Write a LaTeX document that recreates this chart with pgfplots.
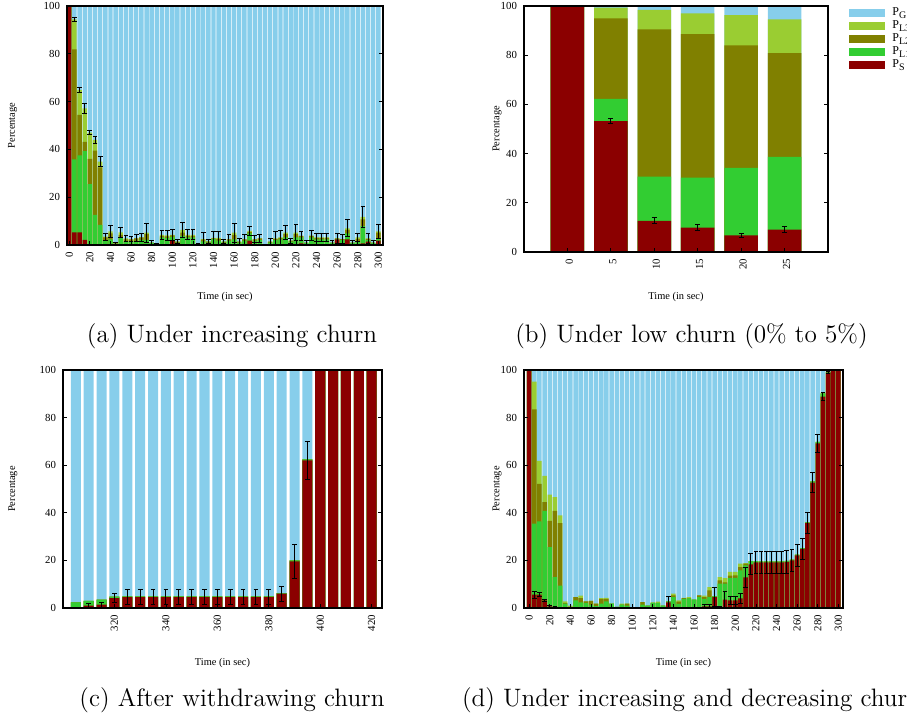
\documentclass[border=0pt]{standalone}
\usepackage{fontspec}
\usepackage{pgfplots}
\usepackage{pgfplotstable}
\pgfplotsset{compat=1.18}
\newfontfamily\plotfont{Liberation Serif}
\definecolor{pG}{HTML}{87CEEB}
\definecolor{pLthree}{HTML}{9ACD32}
\definecolor{pLtwo}{HTML}{808000}
\definecolor{pLone}{HTML}{32CD32}
\definecolor{pS}{HTML}{8B0000}

% columns: x, S (top of P_S), c1 (top of P_L1), c2 (top of P_L2), c3 (top of P_L3), G (top of P_G), e (error)
\pgfplotstableread{
x S c1 c2 c3 G e
0 100 100 100 100 100 0
5 5.3 35.8 81.9 94.4 100 0.8
10 5.3 37.5 54.4 64.9 100 1.2
15 2.1 39.3 43.1 57.2 100 2.0
20 0.3 25.5 36.0 47.0 100 0.8
25 0.3 12.6 39.5 44.0 100 1.5
30 0 8.4 32.5 34.9 100 2.0
35 0 1.8 3.2 3.5 100 1.5
40 0 2.4 4.9 5.7 100 2.6
45 0 0.5 0.7 0.7 100 0.3
50 0 3.2 4.2 5.3 100 2.0
55 0 1.4 2.4 2.8 100 1.3
60 0 1.4 2.4 2.4 100 1.0
65 0 1.4 2.8 2.8 100 1.4
70 0.3 2.1 3.2 3.2 100 1.7
75 0.3 2.1 4.5 5.2 100 4.0
80 0 0.8 1.0 1.0 100 0.8
85 0 0.3 0.4 0.4 100 0.3
90 0 3.2 3.8 4.2 100 2.0
95 0 3.0 3.6 4.0 100 2.2
100 1.8 3.4 4.0 4.2 100 2.2
105 0 1.0 1.4 1.4 100 0.8
110 0 3.8 5.2 6.3 100 3.2
115 0 3.2 3.8 4.2 100 2.1
120 0 3.2 3.8 4.2 100 2.1
125 0 0.3 0.3 0.3 100 0.2
130 0 1.5 2.2 2.5 100 2.6
135 0 1.0 1.4 1.5 100 1.0
140 0 2.5 2.8 3.0 100 2.6
145 0 1.8 2.6 3.0 100 2.7
150 0 1.0 1.4 1.4 100 0.8
155 0 1.8 2.4 2.4 100 2.0
160 0 2.4 4.2 5.2 100 4.0
165 0 1.0 1.4 1.4 100 1.2
170 0 1.8 2.4 2.4 100 2.0
175 1.8 4.9 5.4 5.9 100 2.0
180 0 1.8 2.4 2.4 100 1.4
185 0 2.0 2.8 2.8 100 1.6
190 0 0.2 0.2 0.2 100 0.1
195 0 1.0 1.4 1.4 100 1.2
200 0 2.0 2.6 2.8 100 3.0
205 0 2.4 3.0 3.2 100 3.0
210 0 3.2 4.5 5.2 100 2.8
215 0 1.4 1.8 1.8 100 1.0
220 0 3.2 4.6 5.2 100 3.2
225 0.7 3.2 3.8 3.8 100 2.0
230 0 0.8 1.0 1.0 100 0.8
235 0 3.2 3.8 3.9 100 2.2
240 0 2.4 3.0 3.2 100 1.8
245 0 2.4 3.0 3.2 100 1.8
250 0 2.4 3.0 3.2 100 1.8
255 0 0.8 1.0 1.0 100 1.0
260 2.4 2.6 2.8 2.8 100 2.0
265 0 2.0 2.5 2.5 100 1.8
270 2.4 4.9 6.3 7.0 100 3.6
275 0 0.8 1.0 1.0 100 0.9
280 0 1.4 2.6 3.2 100 1.8
285 0.7 7.9 10.7 11.8 100 4.5
290 1.4 2.0 2.6 2.8 100 2.1
295 0 0.8 1.0 1.0 100 1.0
300 1.8 2.8 5.2 5.7 100 3.0
}\tabA

\pgfplotstableread{
x S c1 c2 c3 G e
0 100 100 100 100 100 0
5 53.2 62.2 95.0 99.3 100 1.1
10 12.7 30.6 90.5 98.4 100 1.3
15 9.9 30.2 88.6 97.0 100 1.35
20 6.8 34.2 84.0 96.3 100 0.9
25 9.1 38.7 80.8 94.6 100 1.1
}\tabB

\pgfplotstableread{
x S c1 c2 c3 G e
305 0 2.4 2.4 2.4 100 0
310 1.0 3.0 3.0 3.0 100 0.9
315 1.4 3.5 3.5 3.5 100 1.0
320 4.2 4.8 4.8 4.8 100 2.0
325 4.6 4.9 4.9 4.9 100 3.3
330 4.6 4.9 4.9 4.9 100 3.3
335 4.6 4.9 4.9 4.9 100 3.3
340 4.6 4.9 4.9 4.9 100 3.3
345 4.6 4.9 4.9 4.9 100 3.3
350 4.6 4.9 4.9 4.9 100 3.3
355 4.6 4.9 4.9 4.9 100 3.3
360 4.6 4.9 4.9 4.9 100 3.3
365 4.6 4.9 4.9 4.9 100 3.3
370 4.6 4.9 4.9 4.9 100 3.3
375 4.6 4.9 4.9 4.9 100 3.3
380 4.6 4.9 4.9 4.9 100 3.3
385 6.0 6.2 6.2 6.2 100 3.1
390 19.6 20.0 20.0 20.0 100 7.1
395 62.0 62.4 62.4 62.4 100 8.0
400 100 100 100 100 100 0
405 100 100 100 100 100 0
410 100 100 100 100 100 0
415 100 100 100 100 100 0
420 100 100 100 100 100 0
}\tabC

\pgfplotstableread{
x S c1 c2 c3 G e
0 100 100 100 100 100 0
5 5.6 35.4 83.5 95.1 100 1.5
10 5.6 36.4 52.2 61.8 100 0.9
15 3.2 40.8 44.5 55.5 100 0.3
20 0.7 25.6 36.6 47.6 100 0.3
25 0.6 13.0 40.8 46.6 100 0
30 0.4 9.4 35.7 38.9 100 0
35 0 1.8 2.2 2.8 100 0
40 0 0.5 0.5 1.0 100 0
45 0.3 3.2 4.6 4.6 100 0
50 0 2.4 4.2 5.2 100 0
55 0 2.1 2.8 2.8 100 0
60 0 1.4 3.0 3.0 100 0
65 0 0.8 1.8 1.8 100 0
70 0 1.8 3.8 4.2 100 0
75 0 2.8 3.8 4.3 100 0
80 0 1.8 1.8 1.8 100 0
85 0.3 0.5 0.5 0.5 100 0
90 0 1.4 1.4 1.8 100 0
95 0 1.0 1.8 1.8 100 0
100 0 0.4 0.4 0.4 100 0
105 0 0.1 0.1 0.1 100 0
110 0 1.4 2.5 2.5 100 0
115 0 1.0 1.0 1.0 100 0
120 0 2.1 2.1 2.4 100 0
125 0 2.1 2.1 2.7 100 0
130 0 1.0 1.0 1.0 100 0
135 2.4 2.8 2.8 2.8 100 2.6
140 0 4.6 5.3 6.0 100 0
145 0 1.7 2.7 3.2 100 0
150 0 3.8 4.1 4.3 100 0
155 0 4.0 4.0 4.6 100 0
160 0 3.5 3.5 3.5 100 0
165 0 4.6 5.3 5.3 100 0
170 0.7 3.8 4.6 5.2 100 0.8
175 0.7 4.6 7.4 8.8 100 0.8
180 4.6 5.0 5.0 5.0 100 4.0
185 0.4 10.2 11.6 13.0 100 0.4
190 3.5 10.2 10.8 12.6 100 3.5
195 3.2 12.6 13.6 15.2 100 1.8
200 3.2 12.7 13.7 15.2 100 1.8
205 4.0 15.8 17.2 18.6 100 2.1
210 12.9 17.9 18.6 18.9 100 4.3
215 18.3 19.7 19.7 19.7 100 4.4
220 19.2 19.7 19.7 19.7 100 4.7
225 19.2 19.6 19.6 19.6 100 4.7
230 19.2 19.6 19.6 19.6 100 4.7
235 19.2 19.6 19.6 19.6 100 4.7
240 19.2 19.6 19.6 19.6 100 4.7
245 19.2 19.6 19.6 19.6 100 4.7
250 19.4 19.8 19.8 19.8 100 4.7
255 20.0 20.3 20.3 20.3 100 4.6
260 22.1 22.4 22.4 22.4 100 4.7
265 24.8 25.2 25.2 25.2 100 4.4
270 35.7 36.0 36.0 36.0 100 4.3
275 52.7 53.2 53.2 53.2 100 4.1
280 69.2 69.8 69.8 69.8 100 3.9
285 88.8 90.2 90.2 90.2 100 1.7
290 98.9 99.2 99.2 99.2 100 0.4
295 100 100 100 100 100 0
300 100 100 100 100 100 0
}\tabD

\pgfplotsset{
  panel/.style={
    scale only axis, ybar, ymin=0, ymax=100, ytick={0,20,40,60,80,100},
    axis on top, tick align=inside, major tick length=2pt,
    xtick pos=left, ytick pos=both,
    axis line style={line width=0.6pt},
    every tick/.style={black, line width=0.4pt},
    tick label style={font=\plotfont\fontsize{5.4}{6}\selectfont},
    /pgf/number format/assume math mode=true,
    xticklabel style={rotate=90, anchor=east},
    label style={font=\plotfont\fontsize{5.2}{6}\selectfont},
    ylabel={Percentage}, xlabel={Time (in sec)},
    scaled ticks=false,
  },
  bl/.style={fill=#1, draw=none, bar shift=0pt},
  eb/.style={fill=none, draw=none, bar shift=0pt,
    error bars/y dir=both, error bars/y explicit,
    error bars/error bar style={black, line width=0.5pt},
    error bars/error mark options={rotate=90, black, mark size=1.2pt, line width=0.5pt}},
  sw/.style={legend image code/.code={\fill[#1] (0pt,-1.8pt) rectangle (17.5pt,1.8pt); \path (20.5pt,0pt);}},
}

\begin{document}
\begin{tikzpicture}
% (a)
\begin{axis}[panel, at={(33.5pt,234pt)}, anchor=south west, width=158pt, height=119.5pt,
  xmin=-2.2, xmax=304.5, xtick={0,20,...,300}, bar width=4.3,
  ylabel style={at={(axis description cs:-0.1725,0.5)}, anchor=center},
  xlabel style={at={(axis description cs:0.5,0)}, anchor=center, yshift=-26pt}]
\addplot[bl=pG] table[x=x,y=G]{\tabA};
\addplot[bl=pLthree] table[x=x,y=c3]{\tabA};
\addplot[bl=pLtwo] table[x=x,y=c2]{\tabA};
\addplot[bl=pLone] table[x=x,y=c1]{\tabA};
\addplot[bl=pS] table[x=x,y=S]{\tabA};
\addplot[eb] table[x=x,y=c3,y error=e]{\tabA};
\end{axis}
% (b)
\begin{axis}[panel, at={(262pt,230.5pt)}, anchor=south west, width=152pt, height=123pt,
  xmin=-5, xmax=30, xtick={0,5,...,25}, bar width=3.85,
  ylabel style={at={(axis description cs:-0.0888,0.5)}, anchor=center},
  xlabel style={at={(axis description cs:0.5,0)}, anchor=center, yshift=-22.5pt},
  xticklabel style={yshift=-1pt},
  legend style={at={(1,1)}, anchor=north west, xshift=10.5pt, draw=none, fill=none,
    inner sep=0pt, row sep=0.1pt,
    nodes={inner sep=0.6pt, text height=4pt, text depth=1.2pt},
    font=\plotfont\fontsize{6}{7}\selectfont},
  legend cell align=left]
\addplot[forget plot, bl=pG] table[x=x,y=G]{\tabB};
\addplot[forget plot, bl=pLthree] table[x=x,y=c3]{\tabB};
\addplot[forget plot, bl=pLtwo] table[x=x,y=c2]{\tabB};
\addplot[forget plot, bl=pLone] table[x=x,y=c1]{\tabB};
\addplot[forget plot, bl=pS] table[x=x,y=S]{\tabB};
\addplot[forget plot, eb] table[x=x,y=S,y error=e]{\tabB};
\addlegendimage{sw=pG}
\addlegendentry{P\textsubscript{G}}
\addlegendimage{sw=pLthree}
\addlegendentry{P\textsubscript{L3}}
\addlegendimage{sw=pLtwo}
\addlegendentry{P\textsubscript{L2}}
\addlegendimage{sw=pLone}
\addlegendentry{P\textsubscript{L1}}
\addlegendimage{sw=pS}
\addlegendentry{P\textsubscript{S}}
\end{axis}
% (c)
\begin{axis}[panel, at={(31.5pt,52.5pt)}, anchor=south west, width=159.5pt, height=119pt,
  xmin=300, xmax=424, xtick={320,340,...,420}, bar width=3.9,
  ylabel style={at={(axis description cs:-0.157,0.5)}, anchor=center},
  xlabel style={at={(axis description cs:0.5,0)}, anchor=center, yshift=-27.5pt}]
\addplot[bl=pG] table[x=x,y=G]{\tabC};
\addplot[bl=pLthree] table[x=x,y=c3]{\tabC};
\addplot[bl=pLtwo] table[x=x,y=c2]{\tabC};
\addplot[bl=pLone] table[x=x,y=c1]{\tabC};
\addplot[bl=pS] table[x=x,y=S]{\tabC};
\addplot[eb] table[x=x,y=S,y error=e]{\tabC};
\end{axis}
% (d)
\begin{axis}[panel, at={(262pt,52.5pt)}, anchor=south west, width=159.5pt, height=119pt,
  xmin=-5, xmax=304.5, xtick={0,20,...,300}, bar width=4.3,
  ylabel style={at={(axis description cs:-0.0846,0.5)}, anchor=center},
  xlabel style={at={(axis description cs:0.5,0)}, anchor=center, yshift=-27.5pt}]
\addplot[bl=pG] table[x=x,y=G]{\tabD};
\addplot[bl=pLthree] table[x=x,y=c3]{\tabD};
\addplot[bl=pLtwo] table[x=x,y=c2]{\tabD};
\addplot[bl=pLone] table[x=x,y=c1]{\tabD};
\addplot[bl=pS] table[x=x,y=S]{\tabD};
\addplot[eb] table[x=x,y=S,y error=e]{\tabD};
\end{axis}
% captions
\node[font=\fontsize{12.6}{15}\selectfont] at (116pt,188.5pt) {(a) Under increasing churn};
\node[font=\fontsize{12.6}{15}\selectfont] at (345.75pt,188.5pt) {(b) Under low churn (0\% to 5\%)};
\node[font=\fontsize{12.6}{15}\selectfont] at (116pt,6.5pt) {(c) After withdrawing churn};
\node[font=\fontsize{12.6}{15}\selectfont] at (345.75pt,6.5pt) {(d) Under increasing and decreasing churn};
\pgfresetboundingbox
\useasboundingbox (0,0) rectangle (453.5pt,356.5pt);
\end{tikzpicture}
\end{document}
